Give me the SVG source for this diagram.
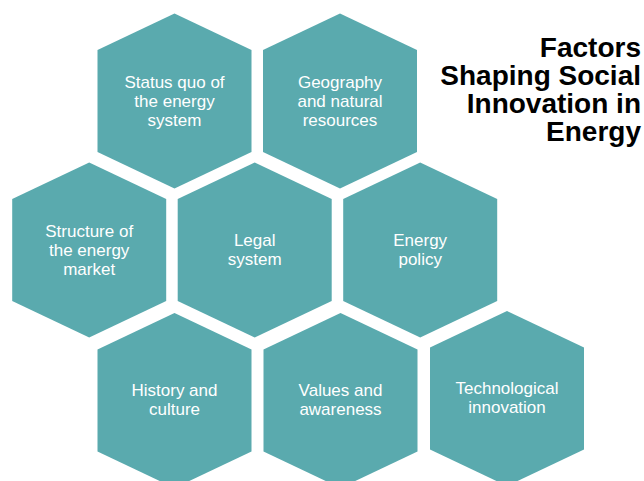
<svg xmlns="http://www.w3.org/2000/svg" xmlns:xlink="http://www.w3.org/1999/xlink" width="644" height="481" viewBox="0 0 644 481">
<style>
.hex{fill:#5AAAAE;}
.lbl{font-family:"Liberation Sans",Arial,sans-serif;font-size:17px;fill:#FFFFFF;text-anchor:middle;}
.title{font-family:"Liberation Sans",Arial,sans-serif;font-size:28px;font-weight:bold;fill:#000000;text-anchor:end;}
</style>
<defs>
<polygon id="hex" class="hex" points="0,-87.5 77,-51 77,51 0,87.5 -77,51 -77,-51"/>
</defs>
<rect width="644" height="481" fill="#FFFFFF"/>
<g id="connectors"></g>
<g id="status-quo">
<use xlink:href="#hex" href="#hex" x="174.5" y="101"/>
<text class="lbl" x="174.5" y="87.7">Status quo of<tspan x="174.5" dy="19">the energy</tspan><tspan x="174.5" dy="19">system</tspan></text>
</g>
<g id="geography">
<use xlink:href="#hex" href="#hex" x="340" y="101"/>
<text class="lbl" x="340" y="87.7">Geography<tspan x="340" dy="19">and natural</tspan><tspan x="340" dy="19">resources</tspan></text>
</g>
<g id="structure">
<use xlink:href="#hex" href="#hex" x="89.2" y="250"/>
<text class="lbl" x="89.2" y="236.7">Structure of<tspan x="89.2" dy="19">the energy</tspan><tspan x="89.2" dy="19">market</tspan></text>
</g>
<g id="legal">
<use xlink:href="#hex" href="#hex" x="254.7" y="250"/>
<text class="lbl" x="254.7" y="246.4">Legal<tspan x="254.7" dy="19">system</tspan></text>
</g>
<g id="energy-policy">
<use xlink:href="#hex" href="#hex" x="420.2" y="250"/>
<text class="lbl" x="420.2" y="246.4">Energy<tspan x="420.2" dy="19">policy</tspan></text>
</g>
<g id="history">
<use xlink:href="#hex" href="#hex" x="174.5" y="400.5"/>
<text class="lbl" x="174.5" y="396.4">History and<tspan x="174.5" dy="19">culture</tspan></text>
</g>
<g id="values">
<use xlink:href="#hex" href="#hex" x="340.5" y="400.5"/>
<text class="lbl" x="340.5" y="396.4">Values and<tspan x="340.5" dy="19">awareness</tspan></text>
</g>
<g id="technological">
<use xlink:href="#hex" href="#hex" x="507" y="398.5"/>
<text class="lbl" x="507" y="393.9">Technological<tspan x="507" dy="19">innovation</tspan></text>
</g>
<g id="title">
<text class="title" x="641" y="57">Factors<tspan x="641" dy="28">Shaping Social</tspan><tspan x="641" dy="28">Innovation in</tspan><tspan x="641" dy="28">Energy</tspan></text>
</g>
</svg>
